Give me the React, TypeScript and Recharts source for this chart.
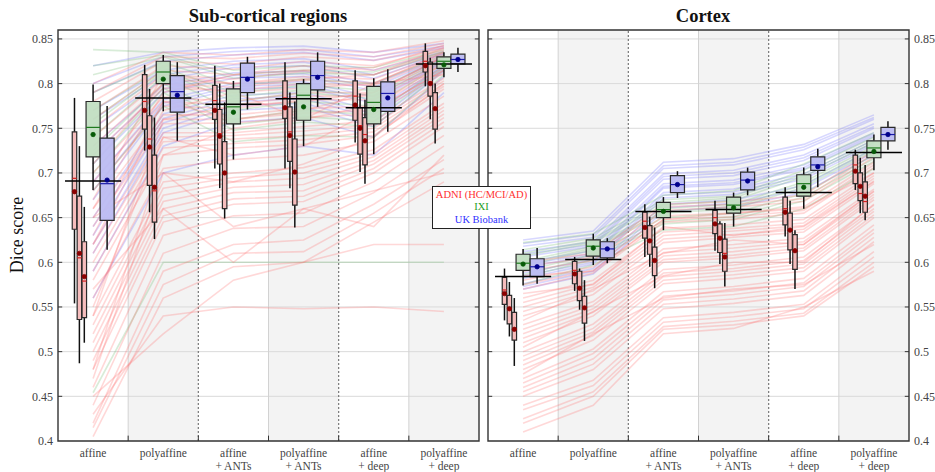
import React from 'react';
import { ComposedChart, Line, XAxis, YAxis, ReferenceArea, ReferenceLine, ReferenceDot } from 'recharts';

const FONT = '"Liberation Serif", "DejaVu Serif", serif';

const categories = [['affine'], ['polyaffine'], ['affine', '+ ANTs'], ['polyaffine', '+ ANTs'], ['affine', '+ deep'], ['polyaffine', '+ deep']];
const yTicks = [0.4, 0.45, 0.5, 0.55, 0.6, 0.65, 0.7, 0.75, 0.8, 0.85];
const legendItems = ['ADNI (HC/MCI/AD)', 'IXI', 'UK Biobank'];

// box stats per method: [low whisker, q1, median, q3, high whisker, mean]
const subHC = [[0.554, 0.637, 0.694, 0.746, 0.784, 0.679], [0.725, 0.749, 0.780, 0.810, 0.821, 0.770], [0.705, 0.760, 0.781, 0.798, 0.820, 0.770], [0.705, 0.761, 0.784, 0.803, 0.824, 0.773], [0.734, 0.759, 0.786, 0.803, 0.815, 0.776], [0.797, 0.813, 0.825, 0.836, 0.845, 0.820]];
const subMCI = [[0.487, 0.536, 0.605, 0.674, 0.730, 0.610], [0.656, 0.686, 0.738, 0.764, 0.794, 0.729], [0.683, 0.710, 0.744, 0.771, 0.800, 0.741], [0.683, 0.713, 0.746, 0.774, 0.790, 0.742], [0.701, 0.721, 0.753, 0.773, 0.789, 0.750], [0.760, 0.786, 0.802, 0.824, 0.829, 0.800]];
const subAD = [[0.510, 0.538, 0.579, 0.623, 0.662, 0.584], [0.626, 0.645, 0.680, 0.720, 0.762, 0.684], [0.649, 0.660, 0.701, 0.735, 0.779, 0.700], [0.639, 0.664, 0.702, 0.738, 0.780, 0.701], [0.688, 0.709, 0.743, 0.762, 0.782, 0.736], [0.733, 0.749, 0.773, 0.790, 0.800, 0.772]];
const subIXI = [[0.681, 0.718, 0.751, 0.780, 0.799, 0.743], [0.769, 0.800, 0.813, 0.825, 0.832, 0.805], [0.715, 0.755, 0.774, 0.794, 0.803, 0.768], [0.730, 0.759, 0.787, 0.800, 0.805, 0.774], [0.721, 0.755, 0.779, 0.797, 0.806, 0.771], [0.807, 0.817, 0.825, 0.830, 0.835, 0.821]];
const subUKB = [[0.614, 0.647, 0.688, 0.739, 0.775, 0.692], [0.736, 0.768, 0.791, 0.809, 0.824, 0.787], [0.771, 0.790, 0.807, 0.823, 0.830, 0.805], [0.774, 0.793, 0.809, 0.825, 0.835, 0.807], [0.746, 0.769, 0.789, 0.802, 0.816, 0.784], [0.813, 0.822, 0.827, 0.833, 0.840, 0.827]];
const subMean = [0.691, 0.784, 0.777, 0.783, 0.773, 0.822];

const ctxHC = [[0.535, 0.553, 0.569, 0.583, 0.593, 0.565], [0.568, 0.576, 0.591, 0.601, 0.606, 0.587], [0.606, 0.627, 0.646, 0.656, 0.665, 0.639], [0.613, 0.632, 0.650, 0.658, 0.669, 0.643], [0.629, 0.642, 0.660, 0.673, 0.684, 0.656], [0.681, 0.688, 0.709, 0.720, 0.726, 0.702]];
const ctxMCI = [[0.517, 0.531, 0.548, 0.563, 0.578, 0.548], [0.547, 0.557, 0.572, 0.590, 0.593, 0.571], [0.595, 0.609, 0.625, 0.641, 0.651, 0.624], [0.598, 0.611, 0.628, 0.643, 0.646, 0.627], [0.598, 0.614, 0.636, 0.655, 0.669, 0.636], [0.655, 0.669, 0.677, 0.700, 0.717, 0.685]];
const ctxAD = [[0.484, 0.513, 0.525, 0.544, 0.560, 0.525], [0.512, 0.532, 0.549, 0.562, 0.580, 0.549], [0.571, 0.585, 0.602, 0.617, 0.639, 0.602], [0.573, 0.590, 0.610, 0.626, 0.644, 0.606], [0.570, 0.592, 0.613, 0.631, 0.636, 0.613], [0.647, 0.656, 0.668, 0.690, 0.709, 0.674]];
const ctxIXI = [[0.574, 0.591, 0.599, 0.609, 0.615, 0.598], [0.597, 0.607, 0.618, 0.625, 0.632, 0.616], [0.636, 0.650, 0.659, 0.667, 0.673, 0.657], [0.640, 0.655, 0.664, 0.673, 0.678, 0.661], [0.660, 0.674, 0.688, 0.698, 0.706, 0.684], [0.703, 0.717, 0.728, 0.736, 0.743, 0.724]];
const ctxUKB = [[0.576, 0.584, 0.595, 0.604, 0.616, 0.595], [0.599, 0.605, 0.615, 0.623, 0.627, 0.615], [0.672, 0.678, 0.687, 0.697, 0.702, 0.687], [0.675, 0.681, 0.692, 0.701, 0.706, 0.691], [0.684, 0.703, 0.709, 0.718, 0.727, 0.707], [0.726, 0.736, 0.743, 0.751, 0.758, 0.743]];
const ctxMean = [0.584, 0.603, 0.657, 0.659, 0.678, 0.723];

// per-subject curves (one value per method)
const subRed = [
  [0.80, 0.835, 0.832, 0.838, 0.835, 0.848], [0.78, 0.825, 0.822, 0.83, 0.826, 0.842], [0.76, 0.815, 0.81, 0.82, 0.815, 0.838],
  [0.74, 0.805, 0.80, 0.808, 0.805, 0.834], [0.72, 0.795, 0.792, 0.80, 0.798, 0.83], [0.70, 0.785, 0.78, 0.79, 0.79, 0.826],
  [0.68, 0.775, 0.772, 0.782, 0.782, 0.822], [0.66, 0.765, 0.765, 0.772, 0.775, 0.818], [0.64, 0.755, 0.756, 0.762, 0.766, 0.812],
  [0.62, 0.745, 0.745, 0.752, 0.758, 0.806], [0.60, 0.735, 0.738, 0.742, 0.75, 0.80], [0.58, 0.72, 0.728, 0.732, 0.742, 0.794],
  [0.56, 0.705, 0.715, 0.72, 0.735, 0.786], [0.54, 0.69, 0.70, 0.706, 0.726, 0.778], [0.52, 0.675, 0.69, 0.694, 0.718, 0.77],
  [0.50, 0.66, 0.678, 0.68, 0.71, 0.762], [0.48, 0.645, 0.665, 0.668, 0.70, 0.752], [0.46, 0.63, 0.652, 0.655, 0.69, 0.742],
  [0.44, 0.61, 0.638, 0.64, 0.678, 0.73], [0.42, 0.59, 0.62, 0.625, 0.665, 0.715], [0.405, 0.56, 0.595, 0.60, 0.645, 0.69],
  [0.43, 0.54, 0.55, 0.548, 0.55, 0.545], [0.45, 0.52, 0.58, 0.60, 0.62, 0.62], [0.65, 0.70, 0.64, 0.66, 0.68, 0.70],
  [0.57, 0.66, 0.60, 0.66, 0.64, 0.72], [0.71, 0.80, 0.79, 0.76, 0.80, 0.81], [0.63, 0.78, 0.76, 0.77, 0.79, 0.83],
  [0.55, 0.74, 0.72, 0.73, 0.77, 0.815], [0.47, 0.70, 0.69, 0.71, 0.74, 0.80], [0.67, 0.81, 0.80, 0.805, 0.81, 0.84],
  [0.79, 0.83, 0.828, 0.834, 0.83, 0.845], [0.77, 0.82, 0.816, 0.825, 0.82, 0.84], [0.75, 0.81, 0.805, 0.814, 0.81, 0.836],
  [0.73, 0.80, 0.796, 0.804, 0.801, 0.832], [0.69, 0.78, 0.776, 0.786, 0.786, 0.824], [0.65, 0.76, 0.76, 0.767, 0.77, 0.815],
  [0.61, 0.74, 0.742, 0.747, 0.754, 0.803], [0.59, 0.728, 0.733, 0.737, 0.746, 0.797], [0.53, 0.683, 0.695, 0.70, 0.722, 0.774],
  [0.51, 0.668, 0.684, 0.687, 0.714, 0.766], [0.49, 0.652, 0.671, 0.674, 0.705, 0.757], [0.415, 0.575, 0.61, 0.612, 0.655, 0.705],
  [0.62, 0.77, 0.79, 0.795, 0.80, 0.835], [0.54, 0.76, 0.775, 0.78, 0.79, 0.83], [0.48, 0.72, 0.75, 0.76, 0.776, 0.822],
  [0.66, 0.79, 0.81, 0.815, 0.818, 0.843],
];
const subGreen = [
  [0.838, 0.835, 0.815, 0.82, 0.818, 0.838], [0.81, 0.83, 0.806, 0.812, 0.81, 0.835], [0.79, 0.824, 0.798, 0.805, 0.80, 0.832],
  [0.77, 0.818, 0.79, 0.798, 0.792, 0.829], [0.755, 0.813, 0.78, 0.79, 0.783, 0.826], [0.74, 0.808, 0.77, 0.78, 0.775, 0.823],
  [0.725, 0.80, 0.76, 0.77, 0.765, 0.82], [0.70, 0.79, 0.748, 0.757, 0.752, 0.815], [0.68, 0.775, 0.735, 0.742, 0.74, 0.81],
  [0.454, 0.60, 0.60, 0.60, 0.60, 0.60], [0.82, 0.832, 0.81, 0.815, 0.813, 0.836], [0.76, 0.815, 0.785, 0.793, 0.787, 0.828],
  [0.71, 0.795, 0.754, 0.763, 0.758, 0.818],
];
const subBlue = [
  [0.82, 0.835, 0.84, 0.842, 0.835, 0.845], [0.79, 0.825, 0.832, 0.835, 0.826, 0.84], [0.77, 0.815, 0.825, 0.828, 0.815, 0.836],
  [0.75, 0.805, 0.818, 0.82, 0.806, 0.833], [0.73, 0.798, 0.812, 0.814, 0.80, 0.83], [0.71, 0.79, 0.806, 0.808, 0.792, 0.828],
  [0.69, 0.782, 0.80, 0.802, 0.785, 0.826], [0.67, 0.775, 0.794, 0.796, 0.778, 0.824], [0.65, 0.766, 0.787, 0.79, 0.77, 0.821],
  [0.63, 0.756, 0.78, 0.783, 0.762, 0.818], [0.61, 0.745, 0.77, 0.774, 0.752, 0.814], [0.59, 0.73, 0.757, 0.762, 0.74, 0.808],
  [0.56, 0.70, 0.72, 0.73, 0.72, 0.79], [0.80, 0.83, 0.836, 0.838, 0.83, 0.842], [0.76, 0.81, 0.821, 0.824, 0.81, 0.834],
  [0.72, 0.794, 0.809, 0.811, 0.796, 0.829], [0.68, 0.778, 0.797, 0.799, 0.781, 0.825], [0.64, 0.761, 0.783, 0.786, 0.766, 0.82],
  [0.62, 0.75, 0.775, 0.778, 0.757, 0.816],
];

const ctxRed = [
  [0.60, 0.61, 0.665, 0.668, 0.675, 0.725], [0.59, 0.602, 0.658, 0.662, 0.668, 0.718], [0.58, 0.595, 0.652, 0.655, 0.662, 0.712],
  [0.57, 0.588, 0.645, 0.648, 0.655, 0.706], [0.56, 0.58, 0.638, 0.642, 0.648, 0.70], [0.55, 0.572, 0.63, 0.635, 0.641, 0.694],
  [0.54, 0.564, 0.622, 0.628, 0.634, 0.688], [0.53, 0.556, 0.615, 0.62, 0.627, 0.682], [0.52, 0.548, 0.607, 0.612, 0.62, 0.676],
  [0.51, 0.54, 0.60, 0.605, 0.613, 0.67], [0.50, 0.531, 0.592, 0.597, 0.606, 0.664], [0.49, 0.522, 0.584, 0.59, 0.598, 0.657],
  [0.48, 0.513, 0.576, 0.582, 0.59, 0.65], [0.47, 0.503, 0.567, 0.573, 0.582, 0.642], [0.46, 0.492, 0.558, 0.564, 0.573, 0.633],
  [0.45, 0.48, 0.548, 0.554, 0.563, 0.623], [0.44, 0.468, 0.538, 0.544, 0.553, 0.612], [0.425, 0.455, 0.528, 0.534, 0.543, 0.60],
  [0.41, 0.44, 0.52, 0.526, 0.55, 0.59], [0.565, 0.575, 0.64, 0.63, 0.64, 0.69], [0.535, 0.57, 0.61, 0.625, 0.62, 0.68],
  [0.505, 0.545, 0.585, 0.60, 0.60, 0.665], [0.475, 0.52, 0.56, 0.57, 0.575, 0.62], [0.585, 0.59, 0.648, 0.655, 0.66, 0.70],
  [0.595, 0.606, 0.662, 0.665, 0.671, 0.722], [0.575, 0.591, 0.648, 0.651, 0.658, 0.709], [0.555, 0.576, 0.634, 0.638, 0.644, 0.697],
  [0.545, 0.568, 0.626, 0.631, 0.637, 0.691], [0.525, 0.552, 0.611, 0.616, 0.623, 0.679], [0.515, 0.544, 0.603, 0.608, 0.616, 0.673],
  [0.495, 0.526, 0.588, 0.593, 0.602, 0.66], [0.485, 0.518, 0.58, 0.586, 0.594, 0.653], [0.465, 0.498, 0.562, 0.568, 0.577, 0.637],
  [0.455, 0.486, 0.553, 0.559, 0.568, 0.628], [0.435, 0.462, 0.533, 0.539, 0.548, 0.606], [0.42, 0.45, 0.525, 0.53, 0.54, 0.595],
];
const ctxGreen = [
  [0.622, 0.632, 0.675, 0.68, 0.71, 0.745], [0.614, 0.627, 0.67, 0.674, 0.703, 0.74], [0.607, 0.622, 0.664, 0.669, 0.696, 0.734],
  [0.601, 0.618, 0.66, 0.665, 0.69, 0.73], [0.596, 0.614, 0.655, 0.66, 0.684, 0.725], [0.59, 0.609, 0.65, 0.655, 0.677, 0.72],
  [0.583, 0.603, 0.643, 0.648, 0.669, 0.713], [0.575, 0.597, 0.636, 0.64, 0.66, 0.705], [0.61, 0.624, 0.667, 0.672, 0.699, 0.737],
  [0.598, 0.616, 0.657, 0.662, 0.687, 0.727], [0.586, 0.606, 0.646, 0.651, 0.673, 0.716],
];
const ctxBlue = [
  [0.625, 0.635, 0.712, 0.716, 0.732, 0.765], [0.618, 0.628, 0.705, 0.709, 0.726, 0.76], [0.612, 0.623, 0.699, 0.703, 0.72, 0.755],
  [0.606, 0.618, 0.693, 0.697, 0.714, 0.75], [0.60, 0.613, 0.688, 0.692, 0.709, 0.745], [0.594, 0.608, 0.683, 0.687, 0.704, 0.741],
  [0.588, 0.603, 0.678, 0.682, 0.699, 0.737], [0.582, 0.598, 0.672, 0.676, 0.693, 0.732], [0.576, 0.593, 0.665, 0.67, 0.686, 0.727],
  [0.57, 0.587, 0.657, 0.662, 0.678, 0.72], [0.621, 0.631, 0.708, 0.712, 0.729, 0.762], [0.609, 0.62, 0.696, 0.70, 0.717, 0.752],
  [0.597, 0.61, 0.685, 0.689, 0.706, 0.743], [0.585, 0.60, 0.675, 0.679, 0.696, 0.734], [0.573, 0.59, 0.661, 0.666, 0.682, 0.723],
];

// box layout within a method slot (HC, MCI, AD, IXI, UKB)
const OFFS = [-0.265, -0.195, -0.125, 0, 0.2];
const HALF = [0.032, 0.032, 0.032, 0.1, 0.1];
const FILLS = ['#f5b9b9', '#f5b9b9', '#f5b9b9', '#c2dec2', '#bcbcf2'];
const MEDS = ['#d42020', '#d42020', '#d42020', '#1f7a1f', '#1a1aa8'];
const DOTS = ['#8b0000', '#8b0000', '#8b0000', '#075a07', '#00008b'];

function CatTick(props: any) {
  const { x, payload } = props;
  const lines = categories[Math.floor(payload.value)] || [];
  return (
    <text textAnchor="middle" fontSize={11.5} fill="#444" style={{ fontFamily: FONT }}>
      {lines.map((s, i) => <tspan key={i} x={x} y={457 + i * 12.5}>{s}</tspan>)}
    </text>
  );
}

function spaghetti(rows: number[][], color: string, tag: string) {
  return rows.map((vals, k) => (
    <Line key={tag + k} data={vals.map((v, i) => ({ x: i + 0.5, y: v }))} dataKey="y" stroke={color} strokeOpacity={0.27}
      strokeWidth={1.6} dot={false} activeDot={false} isAnimationActive={false} zIndex={-200} />
  ));
}

function Panel({ boxes, means, red, green, blue, right }: any) {
  const els: any[] = [];
  [1, 3, 5].forEach(i => els.push(<ReferenceArea key={'sh' + i} x1={i} x2={i + 1} y1={0.4} y2={0.86} fill="#f3f3f3" fillOpacity={1} stroke="none" zIndex={-300} />));
  yTicks.slice(1).forEach(t => els.push(<ReferenceLine key={'g' + t} y={t} stroke="#dadada" strokeWidth={1} zIndex={-250} />));
  [1, 3, 5].forEach(i => els.push(<ReferenceLine key={'vs' + i} x={i} stroke="#d2d2d2" strokeWidth={1} zIndex={-250} />));
  [2, 4].forEach(i => els.push(<ReferenceLine key={'vd' + i} x={i} stroke="#777" strokeWidth={1.2} strokeDasharray="2 2" zIndex={-250} />));
  els.push(...spaghetti(blue, '#7070ff', 'b'));
  els.push(...spaghetti(green, '#70b870', 'gr'));
  els.push(...spaghetti(red, '#ff7070', 'r'));
  boxes.forEach((grp: number[][], g: number) => {
    grp.forEach((s, c) => {
      const cx = c + 0.5 + OFFS[g];
      const [lo, q1, med, q3, hi] = s;
      els.push(<ReferenceLine key={`wl${g}-${c}`} segment={[{ x: cx, y: lo }, { x: cx, y: q1 }]} stroke="#111" strokeWidth={1.5} zIndex={100} />);
      els.push(<ReferenceLine key={`wh${g}-${c}`} segment={[{ x: cx, y: q3 }, { x: cx, y: hi }]} stroke="#111" strokeWidth={1.5} zIndex={100} />);
      els.push(<ReferenceArea key={`bx${g}-${c}`} x1={cx - HALF[g]} x2={cx + HALF[g]} y1={q1} y2={q3} fill={FILLS[g]} fillOpacity={0.95} stroke="#2a2a2a" strokeWidth={1.2} zIndex={110} />);
      els.push(<ReferenceLine key={`md${g}-${c}`} segment={[{ x: cx - HALF[g], y: med }, { x: cx + HALF[g], y: med }]} stroke={MEDS[g]} strokeWidth={1.2} zIndex={120} />);
    });
  });
  means.forEach((m: number, c: number) => {
    els.push(<ReferenceLine key={'ml' + c} segment={[{ x: c + 0.1, y: m }, { x: c + 0.9, y: m }]} stroke="#000" strokeWidth={1.5} zIndex={130} />);
  });
  boxes.forEach((grp: number[][], g: number) => {
    grp.forEach((s, c) => {
      els.push(<ReferenceDot key={`dt${g}-${c}`} x={c + 0.5 + OFFS[g]} y={s[5]} r={2.2} fill={DOTS[g]} stroke={DOTS[g]} strokeWidth={0.8} zIndex={140} />);
    });
  });
  yTicks.slice(1).forEach(t => {
    els.push(<ReferenceLine key={'tl' + t} segment={[{ x: 0, y: t }, { x: 0.06, y: t }]} stroke="#333" strokeWidth={1} zIndex={150} />);
    els.push(<ReferenceLine key={'tr' + t} segment={[{ x: 5.94, y: t }, { x: 6, y: t }]} stroke="#333" strokeWidth={1} zIndex={150} />);
  });
  [1, 2, 3, 4, 5].forEach(i => els.push(<ReferenceLine key={'tb' + i} segment={[{ x: i, y: 0.4 }, { x: i, y: 0.406 }]} stroke="#333" strokeWidth={1} zIndex={150} />));
  els.push(<ReferenceArea key="frame" x1={0} x2={6} y1={0.4} y2={0.86} fill="none" stroke="#333" strokeWidth={1.4} zIndex={160} />);

  return (
    <ComposedChart width={right ? 448 : 480} height={472}
      margin={right ? { top: 30, right: 0, bottom: 0, left: 1 } : { top: 30, right: 1, bottom: 0, left: 18 }}>
      <XAxis type="number" dataKey="x" domain={[0, 6]} ticks={[0.5, 1.5, 2.5, 3.5, 4.5, 5.5]} interval={0}
        tick={<CatTick />} tickLine={false} axisLine={false} height={31} allowDataOverflow />
      <YAxis type="number" domain={[0.4, 0.86]} ticks={yTicks} interval={0} orientation={right ? 'right' : 'left'}
        width={right ? 26 : 40} tickLine={false} axisLine={false} tickSize={3} tickMargin={2} allowDataOverflow
        tick={{ fontSize: 12, fill: '#444', fontFamily: FONT }} />
      {els}
    </ComposedChart>
  );
}

export default function App() {
  return (
    <div style={{ position: 'absolute', left: 0, top: 0, width: 935, height: 472, background: '#fff', fontFamily: FONT, overflow: 'hidden' }}>
      <div style={{ position: 'absolute', left: 0, top: 0 }}>
        <Panel boxes={[subHC, subMCI, subAD, subIXI, subUKB]} means={subMean} red={subRed} green={subGreen} blue={subBlue} right={false} />
      </div>
      <div style={{ position: 'absolute', left: 487, top: 0 }}>
        <Panel boxes={[ctxHC, ctxMCI, ctxAD, ctxIXI, ctxUKB]} means={ctxMean} red={ctxRed} green={ctxGreen} blue={ctxBlue} right />
      </div>
      <div style={{ position: 'absolute', left: 68, top: 5, width: 400, textAlign: 'center', fontSize: 18.5, fontWeight: 'bold', lineHeight: '22px', color: '#111' }}>Sub-cortical regions</div>
      <div style={{ position: 'absolute', left: 503, top: 5, width: 400, textAlign: 'center', fontSize: 18.5, fontWeight: 'bold', lineHeight: '22px', color: '#111' }}>Cortex</div>
      <div style={{ position: 'absolute', left: -43, top: 224, width: 120, textAlign: 'center', fontSize: 18, lineHeight: '22px', color: '#111', transform: 'rotate(-90deg)' }}>Dice score</div>
      <div style={{ position: 'absolute', left: 432, top: 186, width: 97, height: 39, border: '1.2px solid #222', background: '#fff', textAlign: 'center', fontSize: 10.5, lineHeight: '12.3px', paddingTop: 2 }}>
        <div style={{ color: '#ff3030' }}>{legendItems[0]}</div>
        <div style={{ color: '#1ea01e' }}>{legendItems[1]}</div>
        <div style={{ color: '#3030ff' }}>{legendItems[2]}</div>
      </div>
    </div>
  );
}
